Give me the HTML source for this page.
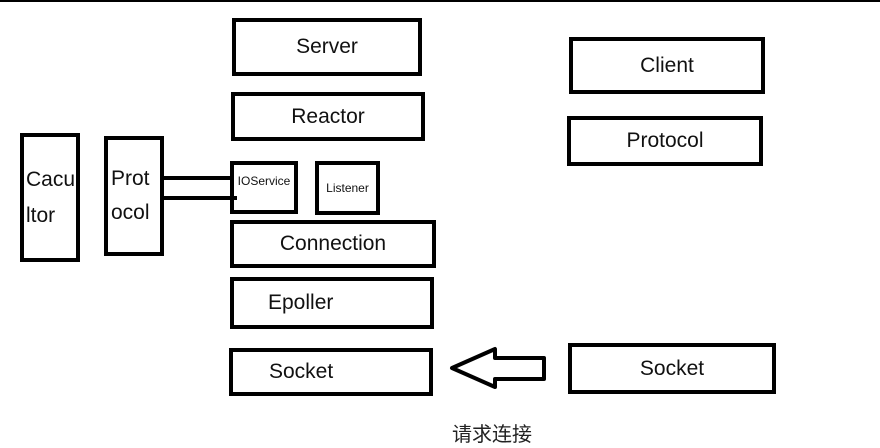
<!DOCTYPE html>
<html><head><style>
body{margin:0;width:880px;height:448px;background:#fff;position:relative;overflow:hidden;font-family:"Liberation Sans","Noto Sans CJK SC",sans-serif;}
.b{position:absolute;box-sizing:border-box;border:4px solid #000;display:flex;align-items:center;justify-content:center;font-size:21px;color:#111;}
.l{position:absolute;background:#000;}
</style></head><body>
<div class="l" style="left:0;top:0;width:880px;height:2px"></div>
<div class="b" style="left:232px;top:18px;width:190px;height:58px">Server</div>
<div class="b" style="left:231px;top:92px;width:194px;height:49px">Reactor</div>
<div class="b" style="left:569px;top:37px;width:196px;height:57px">Client</div>
<div class="b" style="left:567px;top:116px;width:196px;height:50px">Protocol</div>
<div class="b" style="left:20px;top:133px;width:60px;height:129px;justify-content:flex-start;align-items:center;font-size:21px;line-height:36px"><div style="margin-left:2px">Cacu<br>ltor</div></div>
<div class="b" style="left:104px;top:136px;width:60px;height:120px;justify-content:flex-start;align-items:flex-start;line-height:34px"><div style="margin-left:3px;margin-top:22px">Prot<br>ocol</div></div>
<div class="b" style="left:230px;top:161px;width:68px;height:53px;font-size:12px;align-items:flex-start;padding-top:9px">IOService</div>
<div class="b" style="left:315px;top:161px;width:65px;height:54px;font-size:12px">Listener</div>
<div class="b" style="left:230px;top:220px;width:206px;height:48px">Connection</div>
<div class="b" style="left:230px;top:277px;width:204px;height:52px;justify-content:flex-start;padding-left:34px">Epoller</div>
<div class="b" style="left:229px;top:348px;width:204px;height:48px;justify-content:flex-start;padding-left:36px">Socket</div>
<div class="b" style="left:568px;top:343px;width:208px;height:51px">Socket</div>
<div class="l" style="left:163px;top:176px;width:70px;height:4px"></div>
<div class="l" style="left:163px;top:196px;width:74px;height:4px"></div>
<svg style="position:absolute;left:0;top:0" width="880" height="448">
<polygon points="452,368 495,349 495,358 544,358 544,379 495,379 495,387" fill="none" stroke="#000" stroke-width="4" stroke-linejoin="round"/>
</svg>
<div style="position:absolute;left:452px;top:418px;font-size:20px;color:#222">请求连接</div>
</body></html>
